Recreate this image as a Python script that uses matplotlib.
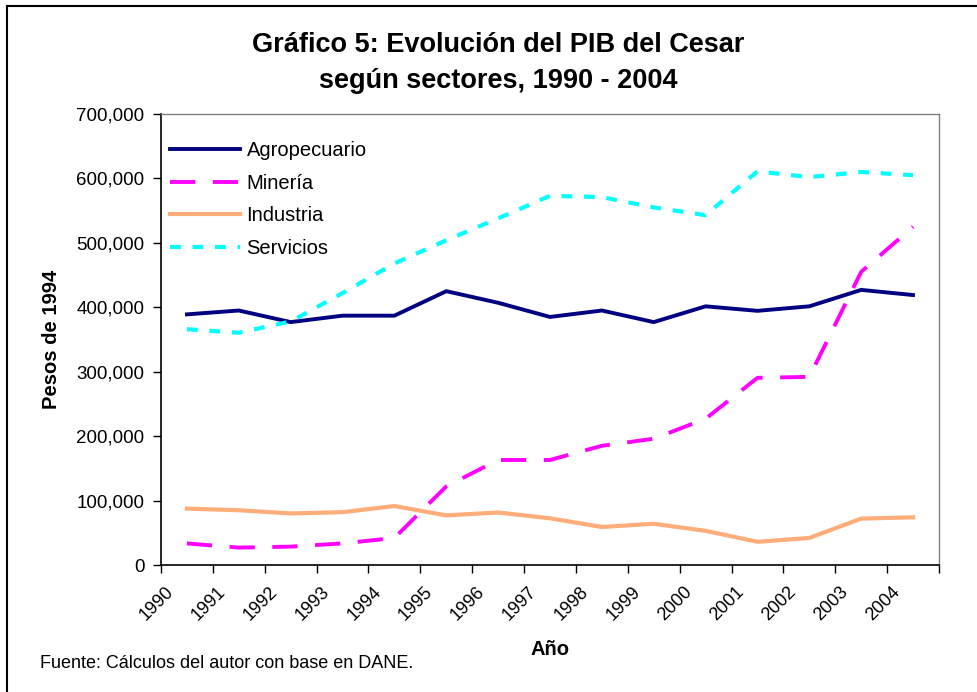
import numpy as np
import matplotlib
matplotlib.use('Agg')
import matplotlib.pyplot as plt
from matplotlib.lines import Line2D
from matplotlib.ticker import FuncFormatter, FixedLocator
from matplotlib.transforms import ScaledTranslation

plt.rcParams['font.family'] = ['Liberation Sans', 'DejaVu Sans']

# years and series (pesos de 1994)
years = ['1990', '1991', '1992', '1993', '1994', '1995', '1996', '1997',
         '1998', '1999', '2000', '2001', '2002', '2003', '2004']
agropecuario = [389000, 395000, 377000, 387000, 387000, 425000, 407000, 385000,
                395000, 377000, 401500, 394500, 401500, 427000, 419000]
mineria = [33500, 27000, 28500, 33500, 42000, 122000, 163000, 163000,
           185000, 196000, 227000, 290500, 292000, 455000, 525000]
industria = [87500, 85000, 80000, 82000, 91500, 77000, 81500, 72500,
             59000, 64000, 53000, 36000, 42000, 72000, 74000]
servicios = [366000, 360500, 378000, 422000, 468000, 504000, 538000, 573000,
             571000, 555000, 543000, 611000, 602000, 610000, 605000]

fig = plt.figure(figsize=(9.78, 6.92), dpi=100)
ax = fig.add_axes([161 / 978, 1 - 565 / 692, 778 / 978, 451 / 692])

x = np.arange(len(years))
ax.plot(x, agropecuario, color='#000080', lw=2.8, label='Agropecuario')
ax.plot(x, mineria, color='#FF00FF', lw=2.8, dashes=(6.5, 4.5), label='Minería')
ax.plot(x, industria, color='#FFAD7A', lw=3.0, label='Industria')
ax.plot(x, servicios, color='#00FFFF', lw=3.0, dashes=(2.6, 2.8),
        dash_capstyle='butt', label='Servicios')

ax.set_xlim(-0.5, len(years) - 0.5)
ax.set_ylim(0, 700000)
ax.set_yticks(np.arange(0, 700001, 100000))
ax.yaxis.set_major_formatter(FuncFormatter(lambda v, p: f'{int(v):,}'))

# tick marks between categories, labels on the categories
ax.xaxis.set_major_locator(FixedLocator(np.arange(-0.5, len(years), 1.0)))
ax.xaxis.set_major_formatter(FuncFormatter(lambda v, p: ''))
ax.set_xticks(x, minor=True)
ax.set_xticklabels(years, minor=True, rotation=45, ha='right', va='top',
                   rotation_mode='anchor', fontsize=13)
ax.tick_params(axis='x', which='minor', length=0, pad=13)
ax.tick_params(axis='x', which='major', direction='out', length=6, width=1)
ax.tick_params(axis='y', direction='out', length=6, width=1, labelsize=13.5, pad=6)
shift = ScaledTranslation(-22 / 100, 0, fig.dpi_scale_trans)
for lab in ax.xaxis.get_minorticklabels():
    lab.set_transform(lab.get_transform() + shift)

for s in ['top', 'right']:
    ax.spines[s].set_color('#808080')
    ax.spines[s].set_linewidth(1)
for s in ['left', 'bottom']:
    ax.spines[s].set_color('black')
    ax.spines[s].set_linewidth(1.2)

ax.set_ylabel('Pesos de 1994', fontsize=14.5, fontweight='bold', labelpad=11)
ax.set_xlabel('Año', fontsize=14.5, fontweight='bold', labelpad=12)

fig.text(498 / 978, 1 - 63 / 692,
         'Gráfico 5: Evolución del PIB del Cesar\nsegún sectores, 1990 - 2004',
         ha='center', va='center', fontsize=19.5, fontweight='bold', linespacing=1.45)
fig.text(40 / 978, 1 - 664 / 692, 'Fuente: Cálculos del autor con base en DANE.',
         ha='left', va='center', fontsize=13)

ax.legend(loc='upper left', bbox_to_anchor=(9 / 778, 1 - 27 / 451), frameon=False,
          fontsize=14.5, handlelength=3.5, handletextpad=0.3, labelspacing=0.68,
          borderaxespad=0, borderpad=0)

# outer chart frame
fig.add_artist(Line2D([7.5 / 978, 7.5 / 978], [0, 1 - 5.5 / 692], color='black', lw=1.5,
                      transform=fig.transFigure))
fig.add_artist(Line2D([7.5 / 978, 1], [1 - 5.5 / 692, 1 - 5.5 / 692], color='black', lw=1.5,
                      transform=fig.transFigure))

fig.savefig('out.png', dpi=100)
